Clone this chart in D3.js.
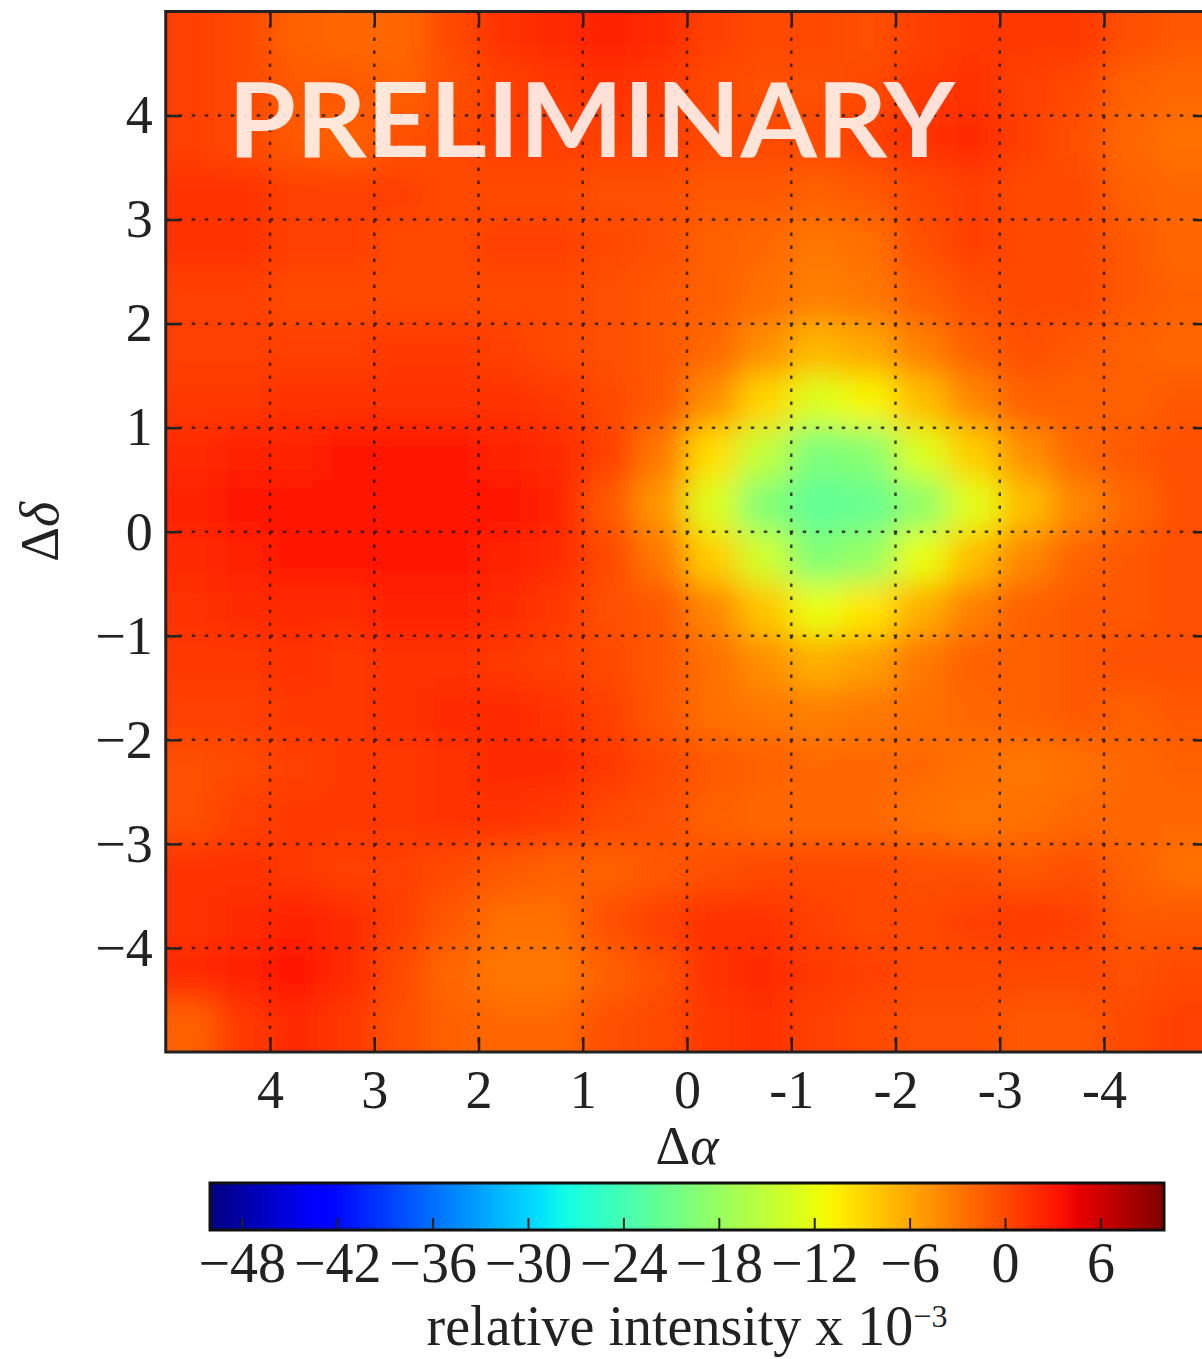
<!DOCTYPE html>
<html lang="en">
<head>
<meta charset="UTF-8">
<title>Relative intensity map</title>
<script src="https://d3js.org/d3.v7.min.js"></script>
<style>
  body { margin: 0; background: white; }
  text { font-family: "Liberation Serif", serif; fill: #222; }
</style>
</head>
<body>
<div id="chart"></div>
<script>
// axis ticks
const xTicks = [4, 3, 2, 1, 0, -1, -2, -3, -4];
const yTicks = [4, 3, 2, 1, 0, -1, -2, -3, -4];
const cbTicks = [-48, -42, -36, -30, -24, -18, -12, -6, 0, 6];

// cell centres (0.5 deg cells), x runs 5 -> -5, y runs 5 -> -5
const xCenters = [4.75, 4.25, 3.75, 3.25, 2.75, 2.25, 1.75, 1.25, 0.75, 0.25,
                  -0.25, -0.75, -1.25, -1.75, -2.25, -2.75, -3.25, -3.75, -4.25, -4.75];
const yCenters = [4.75, 4.25, 3.75, 3.25, 2.75, 2.25, 1.75, 1.25, 0.75, 0.25,
                  -0.25, -0.75, -1.25, -1.75, -2.25, -2.75, -3.25, -3.75, -4.25, -4.75];

// relative intensity x 10^-3, one row per yCenter (top to bottom)
const intensity = [
  [0.5, 0, -1.5, -2, -2, 0, 1.5, 2, 2.5, 2, 0.5, 0, 0, -0.5, 0.5, 1, 1, 1, -0.5, -1],
  [0.5, 0, -1, -1, -1.5, -0.5, 0.5, 1, 1.5, 1, 0, -0.5, -0.5, 0, 1, 1.5, 0.5, 0, -1.5, -2],
  [0.5, 0, -1, -1.5, -0.5, 0, 0.5, 0.5, 0.5, 0.5, 0, 0, 0, 0.5, 1.5, 2, 0.5, -0.5, -2, -2.5],
  [1.5, 1.5, 0.5, 0.5, 0.5, 0, 0, 0, -0.5, -0.5, -1, -1, -1.5, -1, 0, 0.5, 0, 0, -1.5, -2],
  [1.5, 1.5, 0.5, 0.5, 0, 0, 0.5, 0.5, 0, -0.5, -1.5, -2, -3, -2.5, -0.5, 0.5, 0, 0, -1, -2],
  [0.5, 0.5, 0, 0, 0, 0, 0, 0, -0.5, -1, -1.5, -2.5, -3.5, -3, -1.5, -0.5, 0, 0, -1, -1.5],
  [0.5, 0.5, 0.5, 0.5, 1, 1, 0.5, 0, -0.5, -1, -2, -4.5, -7, -6, -3.5, -1.5, -0.5, -1, -1.5, -2],
  [1, 1, 1.5, 1.5, 1.5, 1.5, 1.5, 1, 0, -1, -4.5, -9, -13, -11, -7.5, -4, -1.5, -1.5, -1.5, -1],
  [2, 2.5, 2.5, 3, 3, 3, 2.5, 2, 0.5, -3, -9.5, -15, -20, -19, -13, -8.5, -4.5, -2, -1, -0.5],
  [2.5, 3, 3, 3, 3, 3, 3, 2.5, -1, -5, -13, -19.5, -22, -21.5, -18.5, -12.5, -7.5, -4, -2, -0.5],
  [2, 2.5, 3, 3, 3, 3, 2.5, 2, 0, -3, -8.5, -14, -19.5, -18, -12, -7.5, -4, -1.7, -1, -0.5],
  [1.5, 2, 2, 2, 2.5, 2.5, 2, 1, -0.5, -1, -4, -8, -12, -10, -6.5, -3.5, -1.5, -1, -1, -0.5],
  [1, 1, 1.5, 1, 1.5, 1.5, 1, 0.5, 0, -1, -2.5, -4.5, -6.5, -5.5, -3, -1.5, -1.5, -1, -0.5, -0.5],
  [0.5, 0.5, 1, 1, 1.5, 2, 2, 1.5, 0.5, -1, -2.5, -3, -3.5, -3, -2.5, -2, -1.5, -1, -1.5, -1],
  [-0.5, 0, 0.5, 1, 1, 1.5, 2, 2, 1, 0, -1, -1.5, -2, -2, -2, -2.5, -3, -2.5, -2, -1.5],
  [-0.5, 0.5, 1, 1, 1, 1.5, 1.5, 1, 0, -0.5, -1.5, -2, -2, -2, -2.5, -3, -2.5, -2, -2, -2],
  [1.5, 1.5, 1, 0.5, 0.5, 0, -1, -1.5, -1.5, -1, -0.5, 0, 0, 0, -0.5, -0.5, -1, -0.5, -1.5, -2.5],
  [1.5, 2, 2.5, 2, 0.5, -1, -2.5, -2.5, -0.5, 0.5, 1.5, 1.5, 0.5, 0, 0, 0.5, 1, 0.5, -1, -1],
  [2, 2.5, 3, 2, 0, -2, -3, -3, -1.5, -0.5, 1.5, 2, 1, 0.5, 0, 0, 0, 0, -0.5, 0],
  [-1.5, 1, 2, 1, -0.5, -1.5, -2, -2, -0.5, 0, 1, 1.5, 0.5, 0, -0.5, -0.5, -1, -1, 0, 0.5]
];

const width = 1202;
const height = 1359;
const cellHalf = 0.25;

const x = d3.scaleLinear().domain([5, -5]).range([165.75, 1208.25]);
const y = d3.scaleLinear().domain([-5, 5]).range([1052, 11.5]);
const cb = d3.scaleLinear().domain([-50, 10]).range([210, 1164]);

// matplotlib "jet" built from its segment data
const jetR = d3.scaleLinear().domain([0, 0.35, 0.66, 0.89, 1]).range([0, 0, 1, 1, 0.5]).clamp(true);
const jetG = d3.scaleLinear().domain([0, 0.125, 0.375, 0.64, 0.91, 1]).range([0, 0, 1, 1, 0, 0]).clamp(true);
const jetB = d3.scaleLinear().domain([0, 0.11, 0.34, 0.65, 1]).range([0.5, 1, 1, 0, 0]).clamp(true);
const toUnit = d3.scaleLinear().domain([-50, 10]).range([0, 1]).clamp(true);
function color(v) {
    const t = toUnit(v);
    return d3.rgb(jetR(t) * 255, jetG(t) * 255, jetB(t) * 255).toString();
}

const svg = d3.select("#chart").append("svg")
    .attr("width", width)
    .attr("height", height);

const defs = svg.append("defs");
defs.append("clipPath").attr("id", "plotClip")
  .append("rect")
    .attr("x", x(5)).attr("y", y(5))
    .attr("width", x(-5) - x(5)).attr("height", y(-5) - y(5));
defs.append("filter").attr("id", "soft")
    .attr("filterUnits", "userSpaceOnUse")
    .attr("x", 60).attr("y", -100).attr("width", 1300).attr("height", 1260)
  .append("feGaussianBlur").attr("stdDeviation", 15);

// heat map cells
const cells = [];
intensity.forEach((row, r) => row.forEach((v, c) => cells.push({ r, c, v })));

const heat = svg.append("g").attr("clip-path", "url(#plotClip)")
  .append("g").attr("filter", "url(#soft)");

heat.selectAll("rect")
    .data(cells)
    .join("rect")
    .attr("x", d => x(xCenters[d.c] + cellHalf) - (d.c === 0 ? 50 : 0.5))
    .attr("y", d => y(yCenters[d.r] + cellHalf) - (d.r === 0 ? 50 : 0.5))
    .attr("width", d => x(xCenters[d.c] - cellHalf) - x(xCenters[d.c] + cellHalf) + 1 + (d.c === 0 || d.c === xCenters.length - 1 ? 50 : 0))
    .attr("height", d => y(yCenters[d.r] - cellHalf) - y(yCenters[d.r] + cellHalf) + 1 + (d.r === 0 || d.r === yCenters.length - 1 ? 50 : 0))
    .attr("fill", d => color(d.v));

// dotted grid
const grid = svg.append("g").attr("clip-path", "url(#plotClip)")
    .attr("stroke", "#1a1a1a").attr("stroke-opacity", 0.8)
    .attr("stroke-width", 2.5).attr("stroke-dasharray", "3.5,9.5");
grid.selectAll(".vg").data(xTicks).join("line").attr("class", "vg")
    .attr("x1", d => x(d)).attr("x2", d => x(d))
    .attr("y1", y(5)).attr("y2", y(-5));
grid.selectAll(".hg").data(yTicks).join("line").attr("class", "hg")
    .attr("y1", d => y(d)).attr("y2", d => y(d))
    .attr("x1", x(5)).attr("x2", x(-5));

// axes with inward ticks
function styleAxis(g) {
    g.select(".domain").remove();
    g.selectAll(".tick line").attr("stroke", "#222").attr("stroke-width", 2.5);
    g.selectAll(".tick text").attr("fill", "#222").style("font-size", "54px")
        .style("font-family", '"Liberation Serif", serif');
}

svg.append("g").attr("transform", `translate(0,${y(-5)})`)
    .call(d3.axisBottom(x).tickValues(xTicks).tickFormat(d => String(d))
        .tickSizeInner(-15).tickSizeOuter(0).tickPadding(18))
    .call(styleAxis);
svg.append("g").attr("transform", `translate(0,${y(5)})`)
    .call(d3.axisTop(x).tickValues(xTicks).tickFormat("")
        .tickSizeInner(-15).tickSizeOuter(0))
    .call(styleAxis);
svg.append("g").attr("transform", `translate(${x(5)},0)`)
    .call(d3.axisLeft(y).tickValues(yTicks).tickFormat(d3.format("d"))
        .tickSizeInner(-15).tickSizeOuter(0).tickPadding(13))
    .call(styleAxis);
svg.append("g").attr("transform", `translate(${x(-5)},0)`)
    .call(d3.axisRight(y).tickValues(yTicks).tickFormat("")
        .tickSizeInner(-15).tickSizeOuter(0))
    .call(styleAxis);

// frame
svg.append("rect")
    .attr("x", x(5)).attr("y", y(5))
    .attr("width", x(-5) - x(5)).attr("height", y(-5) - y(5))
    .attr("fill", "none").attr("stroke", "#222").attr("stroke-width", 3);

// axis labels
svg.append("text")
    .attr("x", x(0)).attr("y", 1164)
    .attr("text-anchor", "middle").style("font-size", "54px")
    .html('Δ<tspan font-style="italic">α</tspan>');
svg.append("text")
    .attr("transform", `translate(58,${y(0)}) rotate(-90)`)
    .attr("text-anchor", "middle").style("font-size", "54px")
    .html('Δ<tspan font-style="italic">δ</tspan>');

// watermark
svg.append("text")
    .attr("x", 228).attr("y", 157)
    .attr("textLength", 727).attr("lengthAdjust", "spacingAndGlyphs")
    .style("font-family", "Lato, sans-serif").style("font-weight", 700)
    .style("font-size", "104px").style("fill", "#ffffff").style("fill-opacity", 0.85)
    .text("PRELIMINARY");

// colour bar
const cbTop = 1183, cbBottom = 1230;
const cbGrad = defs.append("linearGradient").attr("id", "jetGrad")
    .attr("x1", "0%").attr("x2", "100%").attr("y1", "0%").attr("y2", "0%");
cbGrad.selectAll("stop")
    .data(d3.range(0, 1.0001, 0.01))
    .join("stop")
    .attr("offset", d => (d * 100) + "%")
    .attr("stop-color", d => color(toUnit.invert(d)));

svg.append("rect")
    .attr("x", cb(-50)).attr("y", cbTop)
    .attr("width", cb(10) - cb(-50)).attr("height", cbBottom - cbTop)
    .attr("fill", "url(#jetGrad)");

svg.append("g").attr("transform", `translate(0,${cbBottom})`)
    .call(d3.axisBottom(cb).tickValues(cbTicks).tickFormat(d3.format("d"))
        .tickSizeInner(-12).tickSizeOuter(0).tickPadding(12))
    .call(g => {
        g.select(".domain").remove();
        g.selectAll(".tick line").attr("stroke", "#222").attr("stroke-width", 2);
        g.selectAll(".tick text").attr("fill", "#222").style("font-size", "56px")
            .style("font-family", '"Liberation Serif", serif');
    });

svg.append("rect")
    .attr("x", cb(-50)).attr("y", cbTop)
    .attr("width", cb(10) - cb(-50)).attr("height", cbBottom - cbTop)
    .attr("fill", "none").attr("stroke", "#111").attr("stroke-width", 3);

const cbLabel = svg.append("text")
    .attr("x", cb(-20)).attr("y", 1345)
    .attr("text-anchor", "middle").style("font-size", "56px");
cbLabel.append("tspan").text("relative intensity x 10");
cbLabel.append("tspan").attr("dy", -18).style("font-size", "32px").text("−3");
</script>
</body>
</html>
